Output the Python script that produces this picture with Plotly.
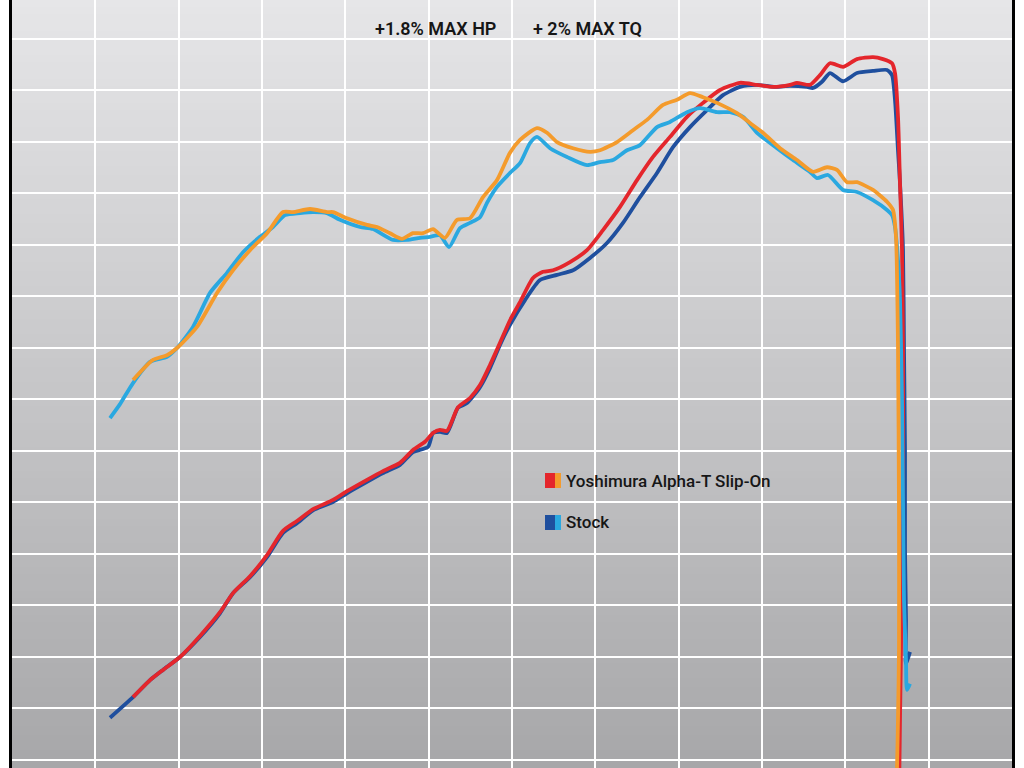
import plotly.graph_objects as go

# ---------------- data (rpm, output) ----------------
stock_hp_rpm = [1176, 1452, 1656, 1812, 2016, 2256, 2496, 2652, 2856, 3060, 3252, 3420, 3612, 3852, 4020,
                4260, 4452, 4656, 4812, 4992, 5052, 5136, 5220, 5352, 5460, 5616, 5736, 5856, 5976, 6156,
                6336, 6540, 6732, 6936, 7140, 7332, 7536, 7740, 7932, 8136, 8340, 8532, 8736, 8940, 9156,
                9336, 9540, 9612, 9720, 9816, 9972, 10140, 10332, 10500, 10560, 10596, 10632, 10656, 10692,
                10704, 10716, 10716, 10728, 10728, 10776]
stock_hp = [8.1, 12.1, 15.4, 17.4, 19.9, 23.8, 28.4, 32.3, 35.4, 39.3, 44.0, 45.9, 48.4, 50.0, 51.7,
            53.9, 55.6, 57.2, 59.7, 60.7, 63.4, 63.6, 63.4, 68.3, 69.2, 72.3, 76.0, 80.5, 84.4, 89.2,
            93.1, 94.1, 95.0, 97.4, 100.3, 104.2, 109.2, 113.9, 118.9, 122.8, 126.1, 129.0, 130.6, 131.0, 130.6,
            130.8, 130.6, 130.4, 131.6, 133.3, 131.7, 133.3, 133.7, 133.9, 132.9, 128.1, 118.3, 111.9, 98.9,
            79.5, 60.1, 40.7, 27.1, 18.7, 20.9]

yoshi_hp_rpm = [1452, 1656, 1812, 2016, 2256, 2496, 2652, 2856, 3060, 3252, 3420, 3612, 3852, 4020, 4260,
                4452, 4656, 4812, 4956, 5052, 5136, 5220, 5352, 5496, 5616, 5736, 5856, 5976, 6096, 6252,
                6372, 6492, 6696, 6900, 7092, 7296, 7500, 7692, 7896, 8100, 8292, 8496, 8736, 8940, 9132,
                9336, 9420, 9576, 9696, 9816, 9972, 10140, 10332, 10452, 10560, 10596, 10632, 10656, 10680,
                10692, 10692, 10680, 10668, 10656, 10644]
yoshi_hp = [12.1, 15.4, 17.4, 19.9, 24.0, 28.6, 32.3, 35.6, 39.7, 44.4, 46.3, 48.6, 50.4, 52.1, 54.3,
            56.0, 57.6, 60.1, 61.7, 63.4, 64.0, 63.8, 68.4, 70.2, 72.7, 76.6, 80.9, 85.3, 88.8, 93.5,
            94.7, 95.0, 96.6, 98.9, 102.8, 107.3, 112.5, 117.0, 120.9, 124.8, 127.5, 130.0, 131.4, 131.0, 130.6,
            131.0, 131.4, 131.0, 132.9, 135.2, 134.5, 136.0, 136.4, 136.0, 135.2, 133.3, 124.8, 111.9, 98.9,
            79.5, 60.1, 40.7, 21.3, 7.7, -7.9]

stock_tq_rpm = [1176, 1296, 1452, 1656, 1860, 1980, 2172, 2376, 2580, 2772, 2976, 3132, 3276, 3456, 3612,
                3780, 3936, 4176, 4332, 4572, 4740, 4896, 5016, 5136, 5244, 5376, 5496, 5616, 5700, 5820,
                5976, 6096, 6216, 6300, 6456, 6660, 6900, 7056, 7212, 7380, 7536, 7740, 7896, 8100, 8256,
                8460, 8616, 8772, 8940, 9180, 9372, 9576, 9660, 9792, 9972, 10140, 10332, 10500, 10560,
                10596, 10632, 10656, 10680, 10692, 10704, 10728, 10740, 10776]
stock_tq = [66.3, 69.0, 73.1, 77.2, 78.2, 79.9, 84.0, 90.6, 94.5, 98.5, 101.5, 103.4, 105.7, 106.1, 106.3,
            106.1, 104.8, 103.4, 103.0, 100.9, 100.9, 101.3, 101.5, 101.8, 99.5, 103.2, 104.2, 105.3, 108.1, 111.2,
            113.9, 115.8, 119.7, 120.9, 118.7, 117.0, 115.4, 116.0, 116.4, 118.3, 119.3, 122.8, 123.8, 125.7, 126.5,
            125.7, 125.7, 124.8, 121.7, 118.7, 116.4, 114.1, 112.9, 113.5, 110.6, 110.2, 108.6, 106.7, 105.7,
            103.4, 97.0, 89.2, 69.8, 50.4, 31.0, 19.3, 13.5, 14.7]

yoshi_tq_rpm = [1452, 1692, 1860, 1980, 2220, 2460, 2652, 2856, 3060, 3252, 3372, 3576, 3780, 3852, 4020,
                4260, 4380, 4536, 4680, 4812, 4932, 5052, 5196, 5340, 5496, 5652, 5820, 5976, 6096, 6300,
                6420, 6540, 6732, 6936, 7056, 7260, 7452, 7620, 7812, 7980, 8136, 8292, 8460, 8700, 8856,
                9012, 9216, 9420, 9612, 9780, 9900, 10020, 10140, 10332, 10500, 10572, 10608, 10632, 10644,
                10644, 10632, 10620, 10608]
yoshi_tq = [73.7, 77.6, 78.5, 79.9, 84.0, 90.6, 95.0, 98.9, 102.2, 106.3, 106.3, 106.9, 106.3, 106.3, 105.1,
            103.8, 103.4, 102.2, 101.1, 102.2, 102.2, 103.0, 101.3, 104.8, 105.1, 109.2, 112.5, 117.8, 120.3, 122.6,
            121.7, 119.9, 118.7, 118.0, 118.3, 119.9, 122.2, 124.2, 127.1, 128.1, 129.4, 128.6, 127.5, 125.5, 123.6,
            121.7, 118.7, 116.4, 114.1, 115.0, 114.5, 112.1, 112.1, 110.6, 108.3, 106.7, 101.5, 80.1, 47.9,
            21.3, 7.7, -1.7, -7.9]

title_left = "+1.8% MAX HP"
title_right = "+ 2% MAX TQ"
legend_labels = ["Yoshimura Alpha-T Slip-On", "Stock"]

# ---------------- colours ----------------
C_RED = "#e4262c"
C_ORANGE = "#f49b2c"
C_DBLUE = "#1f4f9e"
C_LBLUE = "#2aa8e0"

fig = go.Figure()
lw = 3.8
fig.add_trace(go.Scatter(x=stock_hp_rpm, y=stock_hp, mode="lines", name="Stock HP",
                         line=dict(color=C_DBLUE, width=lw, shape="spline", smoothing=0.6), showlegend=False))
fig.add_trace(go.Scatter(x=yoshi_hp_rpm, y=yoshi_hp, mode="lines", name="Yoshimura HP",
                         line=dict(color=C_RED, width=lw, shape="spline", smoothing=0.6), showlegend=False))
fig.add_trace(go.Scatter(x=stock_tq_rpm, y=stock_tq, mode="lines", name="Stock TQ",
                         line=dict(color=C_LBLUE, width=lw, shape="spline", smoothing=0.6), showlegend=False))
fig.add_trace(go.Scatter(x=yoshi_tq_rpm, y=yoshi_tq, mode="lines", name="Yoshimura TQ",
                         line=dict(color=C_ORANGE, width=lw, shape="spline", smoothing=0.6), showlegend=False))

# gradient background strips (below grid)
shapes = []
n = 96
top = (230, 230, 232)
bot = (167, 167, 169)
for i in range(n):
    t = (i + 0.5) / n
    c = tuple(int(round(top[k] + (bot[k] - top[k]) * t)) for k in range(3))
    shapes.append(dict(type="rect", xref="x domain", yref="y domain", x0=0, x1=1,
                       y0=1 - (i + 1) / n, y1=1 - i / n + 0.002, fillcolor="rgb(%d,%d,%d)" % c,
                       line=dict(width=0), layer="below"))

# legend swatches
def swatch(y0, y1, c1, c2):
    return [dict(type="rect", xref="paper", yref="paper", x0=545/1024, x1=555/1024, y0=y0, y1=y1,
                 fillcolor=c1, line=dict(width=0), layer="above"),
            dict(type="rect", xref="paper", yref="paper", x0=555/1024, x1=561/1024, y0=y0, y1=y1,
                 fillcolor=c2, line=dict(width=0), layer="above")]

shapes += swatch(1 - 488/768, 1 - 473/768, C_RED, C_ORANGE)
shapes += swatch(1 - 530/768, 1 - 515/768, C_DBLUE, C_LBLUE)

font_title = dict(family="Roboto", size=18, color="#161616", weight=600)
font_leg = dict(family="Roboto", size=17, color="#161616", weight=500)
annotations = [
    dict(text=title_left, x=435.5/1024, y=1 - 28/768, xref="paper", yref="paper", showarrow=False,
         xanchor="center", yanchor="middle", font=font_title),
    dict(text=title_right, x=587.5/1024, y=1 - 28/768, xref="paper", yref="paper", showarrow=False,
         xanchor="center", yanchor="middle", font=font_title),
    dict(text=legend_labels[0], x=564/1024, y=1 - 481/768, xref="paper", yref="paper", showarrow=False,
         xanchor="left", yanchor="middle", font=font_leg),
    dict(text=legend_labels[1], x=564/1024, y=1 - 522/768, xref="paper", yref="paper", showarrow=False,
         xanchor="left", yanchor="middle", font=font_leg),
]

fig.update_layout(
    width=1024, height=768,
    margin=dict(l=0, r=0, t=0, b=0),
    paper_bgcolor="white",
    plot_bgcolor="rgba(0,0,0,0)",
    shapes=shapes,
    annotations=annotations,
    showlegend=False,
    xaxis=dict(domain=[12/1024, 1012/1024], range=[0, 12000], tick0=0, dtick=1000,
               showgrid=True, gridcolor="white", gridwidth=2, zeroline=False,
               showticklabels=False, ticks="", showline=False, fixedrange=True),
    yaxis=dict(range=[-1.65, 147.48], tick0=0, dtick=10,
               showgrid=True, gridcolor="white", gridwidth=2, zeroline=False,
               showticklabels=False, ticks="", showline=True, linecolor="black", linewidth=3,
               mirror=True, fixedrange=True),
)

fig.write_html("out.html")
